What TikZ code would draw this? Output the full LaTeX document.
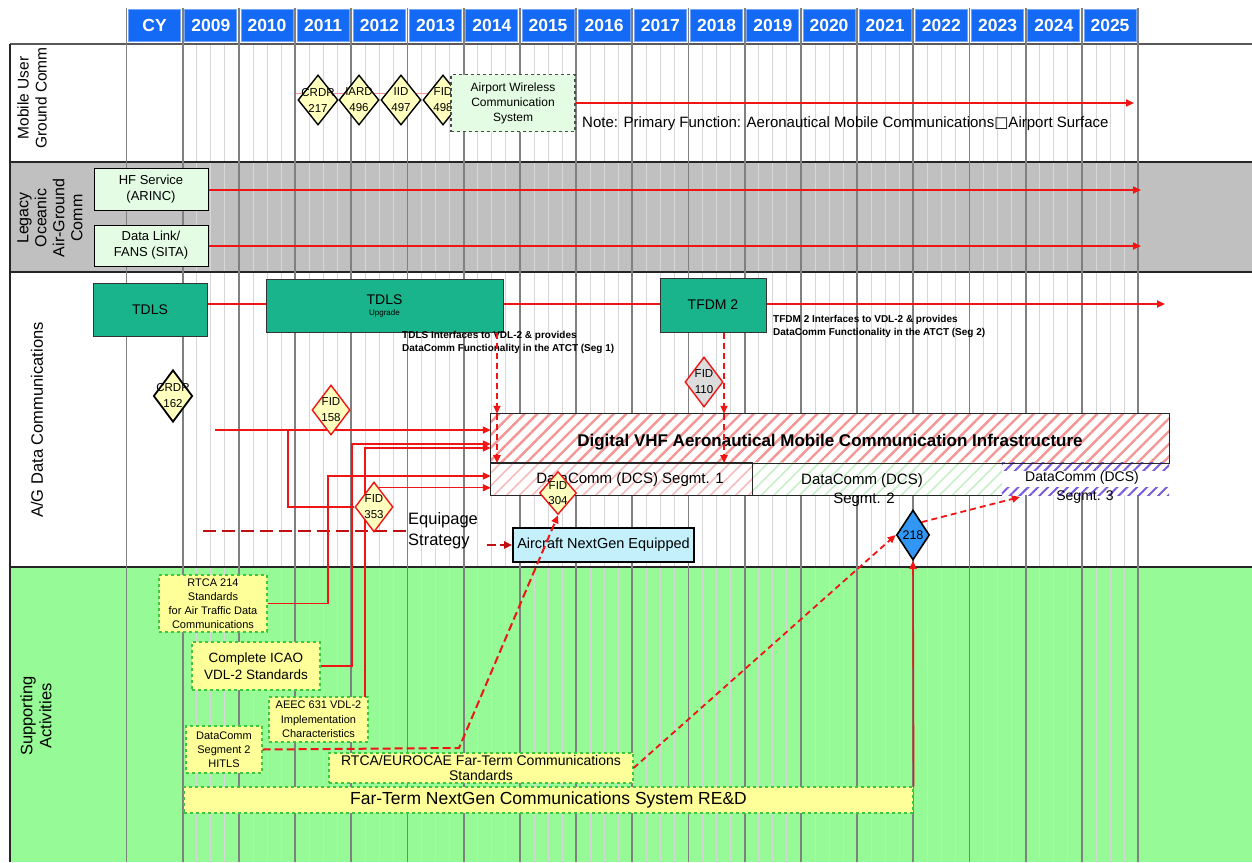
\documentclass[tikz,border=0pt]{standalone}
\usepackage{fontspec}
\setmainfont{Liberation Sans}
\newfontfamily\dvsans{DejaVu Sans}
\usetikzlibrary{shapes.geometric,arrows.meta,patterns.meta,calc}
\definecolor{hdrblue}{RGB}{20,105,245}
\definecolor{bandgray}{RGB}{192,192,192}
\definecolor{bandgreen}{RGB}{150,250,150}
\definecolor{minorc}{RGB}{215,215,215}
\definecolor{majorc}{RGB}{128,128,128}
\definecolor{redc}{RGB}{240,20,20}
\definecolor{tealc}{RGB}{25,180,140}
\definecolor{lgreen}{RGB}{228,252,228}
\definecolor{dyel}{RGB}{255,255,190}
\definecolor{yboxc}{RGB}{255,255,153}
\definecolor{ygreen}{RGB}{60,200,60}
\definecolor{cyanb}{RGB}{195,240,250}
\definecolor{fgray}{RGB}{220,220,220}
\definecolor{blueb}{RGB}{50,150,245}
\definecolor{hatchr}{RGB}{245,150,150}
\definecolor{hatchrb}{RGB}{247,188,188}
\definecolor{hatchg}{RGB}{200,240,200}
\definecolor{purp}{RGB}{120,90,220}
\newcommand\fs[2]{\fontsize{#1}{#2}\selectfont}
\begin{document}
\begin{tikzpicture}[x=1pt,y=-1pt,
  yr/.style={fill=hdrblue,draw=hdrblue!60!white,line width=0.8pt,text=white,font=\bfseries\fs{17.5}{19},minimum width=52pt,minimum height=32pt,inner sep=0pt},
  minorl/.style={draw=minorc,line width=0.8pt},
  majorl/.style={draw=majorc,line width=1.8pt},
  sepl/.style={draw=black!85,line width=1.8pt},
  lbl/.style={rotate=90,align=center,font=\fs{16.5}{19},inner sep=0pt},
  dia/.style={diamond,draw=black,line width=1.4pt,fill=dyel,inner sep=0pt},
  diatxt/.style={align=center,font=\fs{11.5}{16},inner sep=0pt},
  lgbox/.style={rectangle,draw=black,line width=1pt,fill=lgreen,align=center,font=\fs{13}{16},inner sep=0pt},
  tealbox/.style={rectangle,draw=black!80,line width=1pt,fill=tealc,align=center,inner sep=0pt},
  ybx/.style={rectangle,draw=ygreen,dashed,line width=1.2pt,fill=yboxc,align=center,inner sep=0pt},
  rl/.style={draw=redc,line width=2.2pt},
  rl2/.style={draw=redc,line width=1.4pt},
  rdash/.style={draw=redc,line width=1.8pt,dash pattern=on 6pt off 4pt},
  eqdash/.style={draw=redc!80!black,line width=2.4pt,dash pattern=on 13pt off 6pt},
  ar/.style={-{Triangle[length=8pt,width=7pt]}},
  smalltxt/.style={align=left,font=\bfseries\fs{10}{13},inner sep=0pt},
  plain/.style={inner sep=0pt},
]
\useasboundingbox (0,0) rectangle (1252,862);
\fill[white] (0,0) rectangle (1252,862);
\fill[bandgray] (10,162) rectangle (1252,272);
\fill[bandgreen] (10,567) rectangle (1252,862);
% minor grid
\foreach \i in {1,...,17} \foreach \k in {1,2,3}
  \draw[minorl] ({126.5+56.2*\i+14.05*\k},44) -- ({126.5+56.2*\i+14.05*\k},862);
% row separators
\draw[sepl,draw=black!65,line width=1.4pt] (10,44) -- (1252,44);
\draw[sepl] (10,162) -- (1252,162);
\draw[sepl] (10,272) -- (1252,272);
\draw[sepl] (10,567) -- (1252,567);
\draw[sepl,line width=1.4pt] (10,44) -- (10,862);
% major grid
\foreach \i in {0,...,18}
  \draw[majorl] ({126.5+56.2*\i},8) -- ({126.5+56.2*\i},862);
% header
\foreach \lab [count=\i from 0] in {CY,2009,2010,2011,2012,2013,2014,2015,2016,2017,2018,2019,2020,2021,2022,2023,2024,2025}
  \node[yr] (yr\i) at ({126.5+56.2*\i+28.1},25) {\lab};
% left labels
\node[lbl,font=\fs{15.5}{18}] (lab1) at (32,98) {Mobile User\\Ground Comm};
\node[lbl,font=\fs{16}{18}] (lab2) at (50,218) {Legacy\\Oceanic\\Air-Ground\\Comm};
\node[lbl] (lab3) at (37,420) {A/G Data Communications};
\node[lbl] (lab4) at (36,716) {Supporting\\Activities};

% ===== Row 1
\coordinate (fl1) at (296,93);
\coordinate (fl2) at (452,93);
\draw[draw=redc!45,line width=0.8pt] (fl1) -- (fl2);
\node[dia,minimum width=40pt,minimum height=50pt] (d217) at (318,100) {};
\node[dia,minimum width=40pt,minimum height=50pt] (d496) at (359,100) {};
\node[dia,minimum width=40pt,minimum height=50pt] (d497) at (401,100) {};
\node[dia,minimum width=40pt,minimum height=50pt] (d498) at (443,100) {};
\node[diatxt] (t217) at (d217) {CRDR\\217};
\node[diatxt] (t496) at (d496) {IARD\\496};
\node[diatxt] (t497) at (d497) {IID\\497};
\node[diatxt] (t498) at (d498) {FID\\498};
\node[lgbox,dashed,draw=black!70,line width=1.2pt,minimum width=124pt,minimum height=57pt,font=\fs{12}{15}] (awc) at (513,103) {Airport Wireless\\Communication\\System};
\coordinate (awcend) at (1134,103);
\draw[rl,ar] (awc.east) -- (awcend);
\node[plain,anchor=west,font=\fs{15}{17}] (note) at (582,124) {Note: Primary Function: Aeronautical Mobile Communications{\dvsans □}Airport Surface};

% ===== Row 2
\node[lgbox,minimum width=114pt,minimum height=42pt] (hf) at (151,189) {HF Service\\(ARINC)};
\node[lgbox,minimum width=114pt,minimum height=41pt] (dl) at (151,245.5) {Data Link/\\FANS (SITA)};
\coordinate (hfend) at (1141,190);
\coordinate (dlend) at (1141,246);
\draw[rl,ar] (hf.east |- hfend) -- (hfend);
\draw[rl,ar] (dl.east |- dlend) -- (dlend);

% ===== Row 3
\node[tealbox,minimum width=114pt,minimum height=53pt,font=\fs{14}{16}] (tdls) at (150,309.5) {TDLS};
\node[tealbox,minimum width=237pt,minimum height=53pt] (tdlsu) at (384.5,305.5) {{\fs{14}{16}TDLS}\\[-1pt]{\fs{8}{10}Upgrade}};
\node[tealbox,minimum width=106pt,minimum height=54pt,font=\fs{14}{16}] (tfdm) at (713,305) {TFDM 2};
\coordinate (ly) at (0,304);
\coordinate (lyend) at (1165,304);
\draw[rl] (tdls.east |- ly) -- (tdlsu.west |- ly);
\draw[rl] (tdlsu.east |- ly) -- (tfdm.west |- ly);
\draw[rl,ar] (tfdm.east |- ly) -- (lyend);
\node[smalltxt,anchor=north west] (n1) at (402,331) {TDLS Interfaces to VDL-2 \& provides\\DataComm Functionality in the ATCT (Seg 1)};
\node[smalltxt,anchor=north west] (n2) at (773,315) {TFDM 2 Interfaces to VDL-2 \& provides\\DataComm Functionality in the ATCT (Seg 2)};

% VHF infrastructure and segments
\node[plain,minimum width=678pt,minimum height=49pt] (vhf) at (830,438.5) {};
\node[plain,minimum width=261pt,minimum height=32pt] (seg1) at (621.5,479) {};
\node[plain,minimum width=250pt,minimum height=32pt] (seg2) at (877,479) {};
\node[plain,minimum width=167pt,minimum height=32pt] (seg3) at (1085.5,479) {};
\fill[white] (vhf.north west) rectangle (seg3.south east);
\path[pattern={Lines[angle=45,distance=9pt,line width=2.4pt]},pattern color=hatchr] (vhf.north west) rectangle (vhf.south east);
\path[pattern={Lines[angle=45,distance=9pt,line width=1.6pt]},pattern color=hatchrb] (seg1.north west) rectangle (seg1.south east);
\path[pattern={Lines[angle=45,distance=9pt,line width=1.6pt]},pattern color=hatchg] (seg2.north west) rectangle (seg2.south east);
\path[pattern={Lines[angle=45,distance=7pt,line width=2pt]},pattern color=purp] (seg3.north west) rectangle ($(seg3.north east)+(0,8)$);
\path[pattern={Lines[angle=45,distance=7pt,line width=2pt]},pattern color=purp] ($(seg3.south west)+(0,-8)$) rectangle (seg3.south east);
\draw[black!85,line width=1.2pt] (vhf.north west) rectangle (vhf.south east);
\draw[black!85,line width=1pt] (seg1.north west) rectangle (seg1.south east);
\draw[black!85,line width=1pt] (seg2.south west) -- (seg2.south east);
\node[plain,font=\bfseries\fs{17}{19}] (vhft) at (830,442) {Digital VHF Aeronautical Mobile Communication Infrastructure};
\node[plain,font=\fs{15}{17}] (s1t) at (630,480) {DataComm (DCS) Segmt. 1};
\node[plain,font=\fs{15}{17}] (s2t) at (862,481) {DataComm (DCS)};
\node[plain,font=\fs{15}{17}] (s2u) at (864,500) {Segmt. 2};
\node[plain,font=\fs{14}{16}] (s3t) at (1082,478) {DataComm (DCS)};
\node[plain,font=\fs{14}{16}] (s3u) at (1085,497) {Segmt. 3};

% dashed arrows from TDLS upgrade / TFDM 2
\coordinate (xa) at (497,0);
\coordinate (xb) at (724,0);
\draw[rdash,ar] (tdlsu.south -| xa) -- (vhf.north -| xa);
\draw[rdash,ar] (vhf.north -| xa) -- (vhf.south -| xa);
\draw[rdash,ar] (tfdm.south -| xb) -- (vhf.north -| xb);
\draw[rdash,ar] (vhf.north -| xb) -- (vhf.south -| xb);

% diamonds in row 3
\node[dia,line width=1.8pt,minimum width=39pt,minimum height=52pt] (d162) at (173,396) {};
\node[diatxt] (t162) at (d162) {CRDR\\162};
\node[dia,draw=redc,fill=fgray,minimum width=38pt,minimum height=50pt] (f110) at (704,382) {};
\node[diatxt] (t110) at (f110) {FID\\110};

% Aircraft box and equipage
\node[rectangle,draw=black,line width=1.6pt,fill=cyanb,minimum width=181pt,minimum height=34pt,inner sep=0pt,font=\fs{14.5}{16}] (air) at (603.5,545) {Aircraft NextGen Equipped};
\coordinate (eqs) at (203,531);
\node[plain,anchor=west,align=left,font=\fs{16.5}{21}] (equip) at (408,531) {Equipage\\Strategy};
\draw[eqdash] (eqs) -- (equip.west |- eqs);
\coordinate (eqa) at (487,545);
\draw[eqdash,dash pattern=on 9pt off 4pt,ar] (eqa) -- (air.west);

% ===== Supporting activities boxes
\node[ybx,minimum width=108pt,minimum height=57pt,font=\fs{11}{14}] (r214) at (213,603.5) {RTCA 214\\Standards\\for Air Traffic Data\\Communications};
\node[ybx,minimum width=128pt,minimum height=48pt,font=\fs{13.5}{17}] (icao) at (256,666) {Complete ICAO\\VDL-2 Standards};
\node[ybx,minimum width=99pt,minimum height=45pt,font=\fs{11}{14.5}] (aeec) at (318.5,719.5) {AEEC 631 VDL-2\\Implementation\\Characteristics};
\node[ybx,minimum width=76pt,minimum height=47pt,font=\fs{11}{14}] (hitls) at (224,749.5) {DataComm\\Segment 2\\HITLS};
\node[ybx,minimum width=304pt,minimum height=30pt,font=\fs{14}{15.5}] (rtcaeu) at (481,768) {RTCA/EUROCAE Far-Term Communications\\Standards};
\node[ybx,minimum width=729pt,minimum height=26pt,font=\fs{17.5}{19}] (ftn) at (548.5,800) {Far-Term NextGen Communications System RE\&D};

% connectors into VHF / segment 1
\coordinate (s1) at (215,430);
\coordinate (j1) at (288,430);
\coordinate (c2) at (352,444);
\coordinate (c3b) at (365,448);
\coordinate (c3a) at (365,697);
\coordinate (c4) at (328,476);
\draw[rl2,ar] (s1) -- (vhf.west |- s1);
\draw[rl2,ar] (icao.east) -| (c2) -- (vhf.west |- c2);
\draw[rl2,ar] (c3a) -- (c3b) -- (vhf.west |- c3b);
\draw[rl2,ar] (r214.east) -| (c4) -- (seg1.west |- c4);

\node[dia,draw=redc,minimum width=38pt,minimum height=50pt] (f158) at (331,410) {};
\node[diatxt] (t158) at (f158) {FID\\158};
\node[dia,draw=redc,minimum width=38pt,minimum height=50pt] (f353) at (374,507) {};
\node[diatxt] (t353) at (f353) {FID\\353};
\coordinate (c5) at ($(f353.north)!0.25!(f353.east)$);
\draw[rl2,ar] (c5) -- (seg1.west |- c5);
\draw[rl2] (f353.west) -| (j1);

\node[dia,draw=redc,minimum width=37pt,minimum height=43pt] (f304) at (558,493) {};
\node[diatxt,font=\fs{11.5}{15}] (t304) at (f304) {FID\\304};

\node[dia,fill=blueb,line width=1.6pt,minimum width=33pt,minimum height=50pt] (d218) at (913,535) {};
\node[diatxt,font=\fs{12.5}{14}] (t218) at (d218) {218};

% dashed connectors in supporting activities
\coordinate (c6) at (459,748);
\coordinate (c7) at (1020,497);
\draw[rdash,line width=2pt,dash pattern=on 8pt off 4pt,ar] (hitls.east) -- (c6) -- (f304.south);
\draw[rdash,ar] (rtcaeu.east) -- (d218.west);
\draw[rdash,ar] (d218.north east) -- (c7);
\draw[rl2,line width=1.6pt,ar] (ftn.north east) -- (d218.south);
\end{tikzpicture}
\end{document}
